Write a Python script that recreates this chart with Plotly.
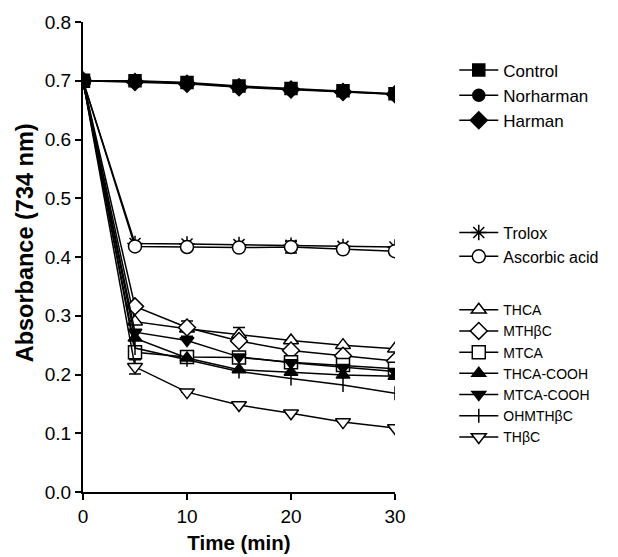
import plotly.graph_objects as go

time = [0, 5, 10, 15, 20, 25, 30]

control = [0.700, 0.700, 0.697, 0.691, 0.687, 0.683, 0.678]
norharman = [0.700, 0.699, 0.696, 0.690, 0.686, 0.682, 0.677]
harman = [0.700, 0.698, 0.695, 0.689, 0.685, 0.681, 0.677]

trolox = [0.700, 0.423, 0.422, 0.421, 0.420, 0.418, 0.417]
ascorbic = [0.700, 0.418, 0.417, 0.416, 0.417, 0.413, 0.410]
ascorbic_err = [0, 0, 0, 0, 0.010, 0, 0]

thca = [0.700, 0.290, 0.278, 0.268, 0.258, 0.250, 0.244]
thca_err = [0, 0, 0.013, 0.012, 0, 0, 0]
mthbc = [0.700, 0.316, 0.280, 0.257, 0.241, 0.232, 0.223]
mtca = [0.700, 0.238, 0.230, 0.229, 0.221, 0.216, 0.210]
thca_cooh = [0.700, 0.262, 0.228, 0.208, 0.204, 0.199, 0.197]
mtca_cooh = [0.700, 0.272, 0.258, 0.230, 0.220, 0.212, 0.205]
ohmthbc = [0.700, 0.245, 0.225, 0.205, 0.193, 0.182, 0.168]
thbc = [0.700, 0.213, 0.170, 0.148, 0.134, 0.119, 0.109]
thbc_err = [0, 0.012, 0, 0, 0, 0, 0]

x_title = "Time (min)"
y_title = "Absorbance (734 nm)"

FONT = "Arial, Liberation Sans, Helvetica, sans-serif"

fig = go.Figure()


def add(name, y, symbol, fill, legend, size=12, err=None, lw=1.5):
    kw = {}
    if err is not None:
        kw["error_y"] = dict(type="data", array=err, visible=True,
                             color="black", thickness=1.5, width=6)
    fig.add_trace(go.Scatter(
        x=time, y=y, name=name, mode="lines+markers",
        line=dict(color="black", width=lw),
        marker=dict(symbol=symbol, size=size, color=fill,
                    line=dict(color="black", width=1.5)),
        legend=legend, **kw))


# lower group first so the filled control markers sit on top at t = 0
add("THCA", thca, "triangle-up", "white", "legend3", size=13, err=thca_err)
add("MTHβC", mthbc, "diamond", "white", "legend3", size=13)
add("MTCA", mtca, "square", "white", "legend3", size=13)
add("THCA-COOH", thca_cooh, "triangle-up", "black", "legend3", size=12)
add("MTCA-COOH", mtca_cooh, "triangle-down", "black", "legend3", size=12)
add("OHMTHβC", ohmthbc, "line-ns", "black", "legend3", size=10)
add("THβC", thbc, "triangle-down", "white", "legend3", size=13, err=thbc_err)

add("Trolox", trolox, "asterisk-open", "black", "legend2", size=13)
add("Ascorbic acid", ascorbic, "circle", "white", "legend2", size=13, err=ascorbic_err)

add("Control", control, "square", "black", "legend", size=12)
add("Norharman", norharman, "circle", "black", "legend", size=12)
add("Harman", harman, "diamond", "black", "legend", size=13)


def leg(x, y, size):
    return dict(x=x, y=y, font=dict(family=FONT, size=size, color="black"),
                bgcolor="rgba(0,0,0,0)", xanchor="left", yanchor="top",
                itemwidth=39, tracegroupgap=0, traceorder="normal")


fig.update_layout(
    width=618, height=557,
    margin=dict(l=83, r=223, t=22, b=65),
    paper_bgcolor="white", plot_bgcolor="white",
    font=dict(family=FONT, color="black"),
    legend=leg(1.19, 0.935, 17),
    legend2=leg(1.19, 0.588, 16),
    legend3=leg(1.19, 0.421, 14),
    xaxis=dict(range=[0, 30], tickvals=[0, 10, 20, 30], showgrid=False,
               zeroline=False, showline=True, linecolor="black", linewidth=2,
               ticks="outside", ticklen=6, tickwidth=2, tickcolor="black",
               tickfont=dict(size=19, family=FONT), automargin=False,
               title=dict(text="<b>" + x_title + "</b>", font=dict(size=20.5, family=FONT), standoff=10)),
    yaxis=dict(range=[0, 0.8], tickvals=[0, 0.1, 0.2, 0.3, 0.4, 0.5, 0.6, 0.7, 0.8],
               tickformat=".1f", showgrid=False,
               zeroline=False, showline=True, linecolor="black", linewidth=2,
               ticks="outside", ticklen=6, tickwidth=2, tickcolor="black",
               tickfont=dict(size=19, family=FONT), automargin=False),
    annotations=[dict(text="<b>" + y_title + "</b>", textangle=-90,
                      xref="paper", yref="paper", x=-0.183, y=0.531,
                      xanchor="center", yanchor="middle", showarrow=False,
                      font=dict(size=23.5, family=FONT, color="black"))],
)

fig.write_html("out.html", config={"displayModeBar": False},
               post_script="document.body.style.margin='0';")
